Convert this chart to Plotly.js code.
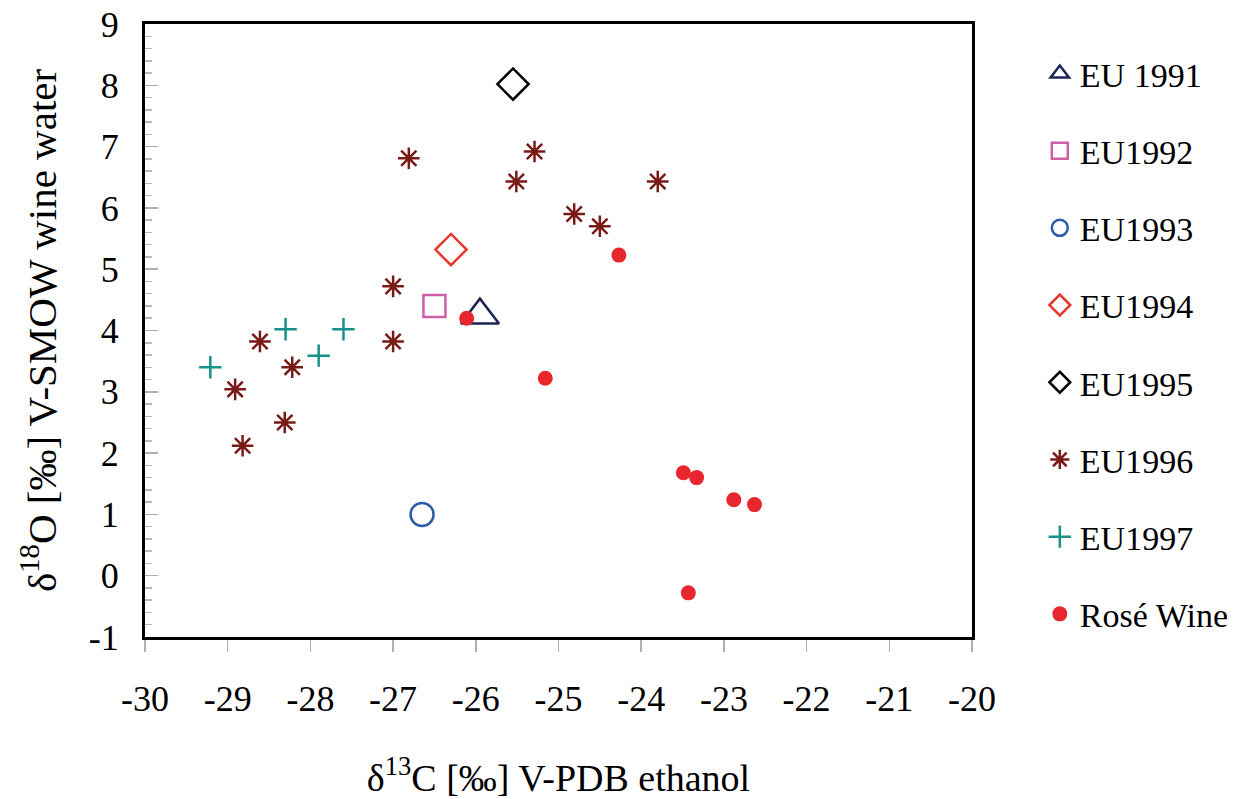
<!DOCTYPE html>
<html>
<head>
<meta charset="utf-8">
<script src="https://cdn.plot.ly/plotly-3.0.1.min.js"></script>
<style>html,body{margin:0;padding:0;background:#fff;}#chart{width:1251px;height:799px;}</style>
</head>
<body>
<div id="chart"></div>
<script>
// Series data (delta13C ethanol, delta18O wine water)
const eu1991X = [-25.95];
const eu1991Y = [4.25];
const eu1992X = [-26.5];
const eu1992Y = [4.4];
const eu1993X = [-26.65];
const eu1993Y = [1.0];
const eu1994X = [-26.3];
const eu1994Y = [5.32];
const eu1995X = [-25.55];
const eu1995Y = [8.02];
const eu1996X = [-26.81, -25.29, -25.51, -24.81, -24.50, -23.80, -27.0, -27.0, -28.61, -28.22, -28.91, -28.31, -28.82];
const eu1996Y = [6.81, 6.92, 6.43, 5.90, 5.70, 6.43, 4.72, 3.82, 3.82, 3.40, 3.04, 2.50, 2.12];
const eu1997X = [-29.21, -28.30, -27.90, -27.60];
const eu1997Y = [3.40, 4.02, 3.59, 4.02];
const roseX = [-26.11, -24.27, -25.16, -23.49, -23.33, -22.88, -22.63, -23.43];
const roseY = [4.20, 5.23, 3.22, 1.68, 1.60, 1.24, 1.16, -0.28];

const seriesNames = ['EU 1991', 'EU1992', 'EU1993', 'EU1994', 'EU1995', 'EU1996', 'EU1997', 'Rosé Wine'];

const xTickVals = [-30, -29, -28, -27, -26, -25, -24, -23, -22, -21, -20];
const xTickText = ['-30', '-29', '-28', '-27', '-26', '-25', '-24', '-23', '-22', '-21', '-20'];
const yTickVals = [-1, 0, 1, 2, 3, 4, 5, 6, 7, 8, 9];
const yTickText = ['-1', '0', '1', '2', '3', '4', '5', '6', '7', '8', '9'];

const FONT = 'Liberation Serif, Times New Roman, serif';

function tr(i, x, y, marker) {
  return {x: x, y: y, type: 'scatter', mode: 'markers', name: seriesNames[i],
    legendgroup: 'g' + i, marker: marker, cliponaxis: false};
}

const data = [
  tr(0, eu1991X, eu1991Y, {symbol: 'triangle-up-open', size: 33, color: '#1c2454', line: {width: 2.5, color: '#1c2454'}}),
  tr(1, eu1992X, eu1992Y, {symbol: 'square-open', size: 22, color: '#cc5fa6', line: {width: 2.5, color: '#cc5fa6'}}),
  tr(2, eu1993X, eu1993Y, {symbol: 'circle-open', size: 23, color: '#2a5caa', line: {width: 2.5, color: '#2a5caa'}}),
  tr(3, eu1994X, eu1994Y, {symbol: 'diamond-open', size: 24, color: '#e8382c', line: {width: 2.5, color: '#e8382c'}}),
  tr(4, eu1995X, eu1995Y, {symbol: 'diamond-open', size: 24, color: '#000000', line: {width: 2.5, color: '#000000'}}),
  tr(5, eu1996X, eu1996Y, {symbol: 'asterisk-open', size: 18, color: '#7a1a16', line: {width: 2.5, color: '#7a1a16'}}),
  tr(6, eu1997X, eu1997Y, {symbol: 'cross-thin-open', size: 16, color: '#18908c', line: {width: 2.5, color: '#18908c'}}),
  tr(7, roseX, roseY, {symbol: 'circle', size: 15, color: '#e8262e', line: {width: 0}})
];

const layout = {
  width: 1251, height: 799,
  paper_bgcolor: '#ffffff', plot_bgcolor: '#ffffff',
  font: {family: FONT, color: '#000000', size: 34},
  margin: {l: 145, r: 279, t: 24, b: 162},
  showlegend: true,
  legend: {
    x: 1.082, xanchor: 'left', y: 0.966, yanchor: 'top',
    font: {family: FONT, size: 34, color: '#000'},
    tracegroupgap: 30, bgcolor: 'rgba(0,0,0,0)', borderwidth: 0
  },
  xaxis: {
    range: [-30, -20], tickvals: xTickVals, ticktext: xTickText,
    ticks: 'outside', ticklen: 12, tickwidth: 1.5, tickcolor: '#b0b0b0',
    ticklabelstandoff: 16,
    showgrid: false, zeroline: false,
    showline: true, linecolor: '#000', linewidth: 3, mirror: true,
    tickfont: {family: FONT, size: 36, color: '#000'},
    title: {text: 'δ<sup>13</sup>C [‰] V-PDB ethanol', font: {family: FONT, size: 38, color: '#000'}, standoff: 50}
  },
  yaxis: {
    range: [-1, 9], tickvals: yTickVals, ticktext: yTickText,
    ticks: 'inside', ticklen: 13, tickwidth: 1.5, tickcolor: '#b0b0b0',
    minor: {dtick: 0.2, ticks: 'inside', ticklen: 7, tickwidth: 1.5, tickcolor: '#b8b8b8', showgrid: false},
    ticklabelstandoff: 16,
    showgrid: false, zeroline: false,
    showline: true, linecolor: '#000', linewidth: 3, mirror: true,
    tickfont: {family: FONT, size: 36, color: '#000'},
    title: {text: 'δ<sup>18</sup>O [‰] V-SMOW wine water', font: {family: FONT, size: 41, color: '#000'}, standoff: 20}
  }
};

Plotly.newPlot('chart', data, layout, {displayModeBar: false, staticPlot: true});
</script>
</body>
</html>
